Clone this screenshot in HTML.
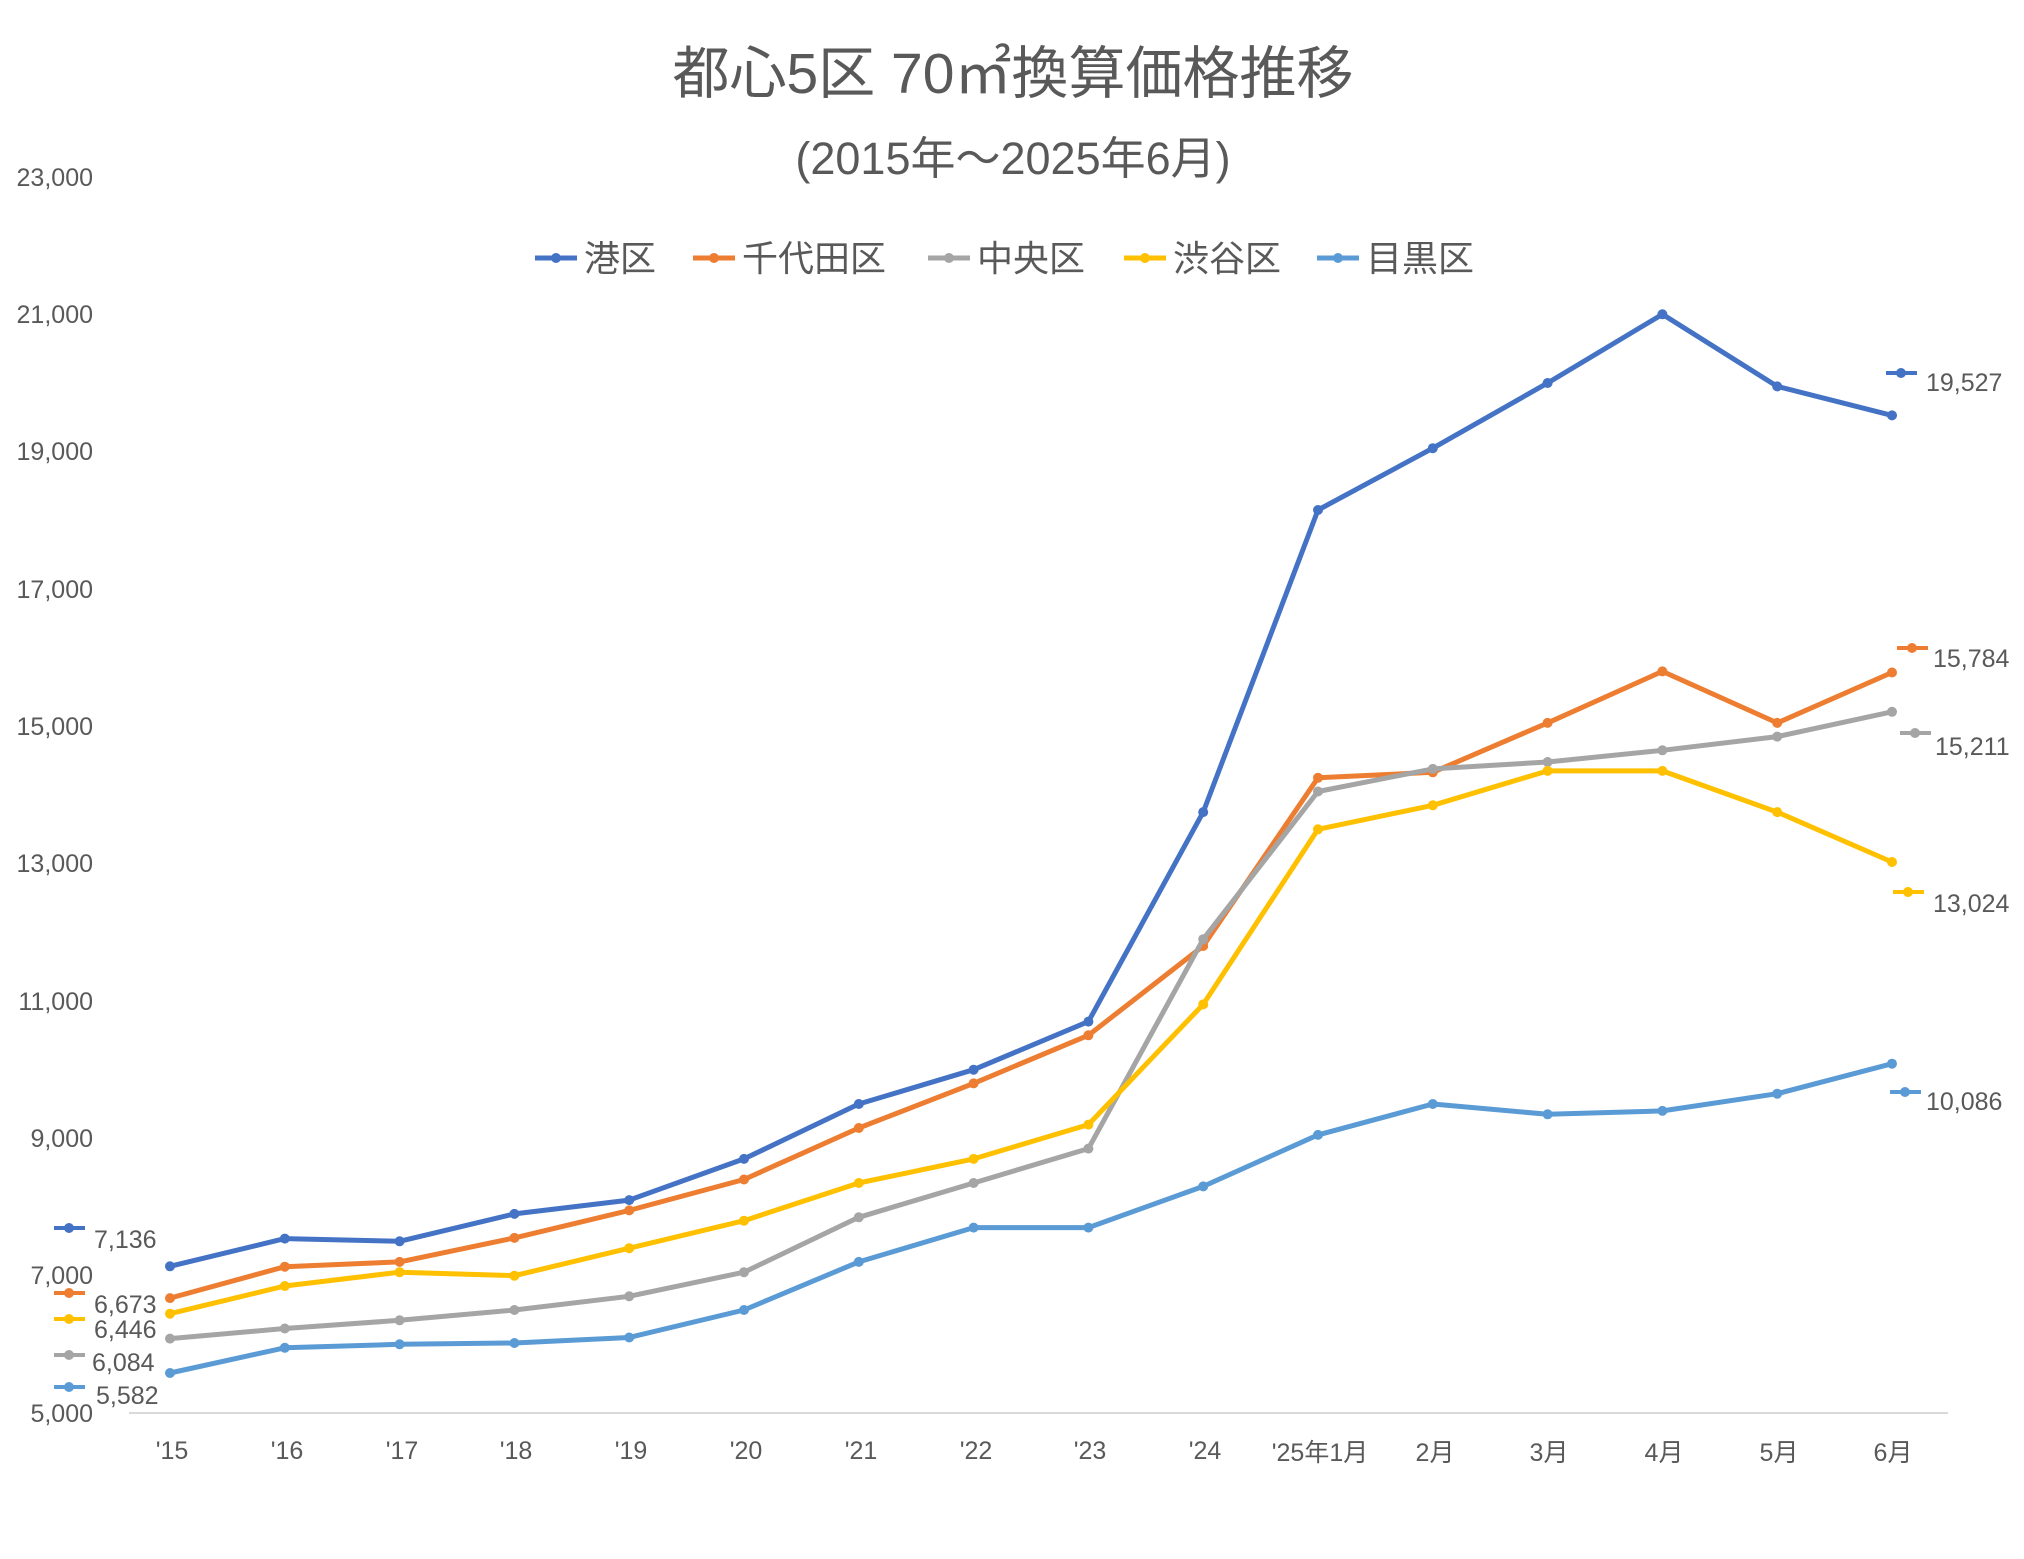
<!DOCTYPE html>
<html><head><meta charset="utf-8"><style>
html,body{margin:0;padding:0;background:#fff;}
svg{display:block}
text{font-family:"Liberation Sans Narrow","Liberation Sans","Noto Sans CJK JP",sans-serif;fill:#595959}
.j{font-family:"Liberation Sans","Noto Sans CJK JP",sans-serif}
</style></head><body>
<svg id="s" width="2024" height="1559" viewBox="0 0 2024 1559" xmlns="http://www.w3.org/2000/svg">
<text class="j" x="1013" y="93" font-size="57" text-anchor="middle">都心5区 70㎡換算価格推移</text>
<text class="j" x="1013" y="174" font-size="45" text-anchor="middle">(2015年～2025年6月)</text>
<g font-size="25" text-anchor="end">
<text x="93" y="186">23,000</text><text x="93" y="323">21,000</text><text x="93" y="460">19,000</text>
<text x="93" y="598">17,000</text><text x="93" y="735">15,000</text><text x="93" y="872">13,000</text>
<text x="93" y="1010">11,000</text><text x="93" y="1147">9,000</text><text x="93" y="1284">7,000</text>
<text x="93" y="1422">5,000</text>
</g>
<line x1="129" y1="1413" x2="1948" y2="1413" stroke="#d9d9d9" stroke-width="2"/>
<g font-size="25" text-anchor="middle">
<text x="172" y="1459">'15</text><text x="287" y="1459">'16</text><text x="402" y="1459">'17</text>
<text x="516" y="1459">'18</text><text x="631" y="1459">'19</text><text x="746" y="1459">'20</text>
<text x="861" y="1459">'21</text><text x="976" y="1459">'22</text><text x="1090" y="1459">'23</text>
<text x="1205" y="1459">'24</text><text class="j" x="1320" y="1461" font-size="25">'25年1月</text>
<text class="j" x="1435" y="1461" font-size="25">2月</text><text class="j" x="1549" y="1461" font-size="25">3月</text>
<text class="j" x="1664" y="1461" font-size="25">4月</text><text class="j" x="1779" y="1461" font-size="25">5月</text>
<text class="j" x="1893" y="1461" font-size="25">6月</text>
</g>
<g class="j" font-size="36">
<line x1="535" y1="258" x2="577" y2="258" stroke="#4472C4" stroke-width="5"/><circle cx="556" cy="258" r="5" fill="#4472C4"/>
<text class="j" x="584" y="271">港区</text>
<line x1="693" y1="258" x2="735" y2="258" stroke="#ED7D31" stroke-width="5"/><circle cx="714" cy="258" r="5" fill="#ED7D31"/>
<text class="j" x="742" y="271">千代田区</text>
<line x1="928" y1="258" x2="970" y2="258" stroke="#A5A5A5" stroke-width="5"/><circle cx="949" cy="258" r="5" fill="#A5A5A5"/>
<text class="j" x="977" y="271">中央区</text>
<line x1="1124" y1="258" x2="1166" y2="258" stroke="#FFC000" stroke-width="5"/><circle cx="1145" cy="258" r="5" fill="#FFC000"/>
<text class="j" x="1173" y="271">渋谷区</text>
<line x1="1317" y1="258" x2="1359" y2="258" stroke="#5B9BD5" stroke-width="5"/><circle cx="1338" cy="258" r="5" fill="#5B9BD5"/>
<text class="j" x="1366" y="271">目黒区</text>
</g>
<g id="series"></g>
<g font-size="25">
<text x="94" y="1248">7,136</text><text x="94" y="1313">6,673</text><text x="94" y="1338">6,446</text>
<text x="92" y="1371">6,084</text><text x="96" y="1404">5,582</text>
<text x="1926" y="391">19,527</text><text x="1933" y="667">15,784</text><text x="1935" y="755">15,211</text>
<text x="1933" y="912">13,024</text><text x="1926" y="1110">10,086</text>
</g>
</svg>
<script>
var S=[
["#4472C4",[7136,7540,7500,7900,8100,8700,9500,10000,10700,13750,18150,19050,20000,21000,19950,19527],[54,1228],[1886,373]],
["#ED7D31",[6673,7130,7200,7550,7950,8400,9150,9800,10500,11800,14250,14330,15050,15800,15050,15784],[54,1293],[1897,648]],
["#A5A5A5",[6084,6230,6350,6500,6700,7050,7850,8350,8850,11900,14050,14380,14480,14650,14850,15211],[54,1355],[1900,733]],
["#FFC000",[6446,6850,7050,7000,7400,7800,8350,8700,9200,10950,13500,13850,14350,14350,13750,13024],[54,1319],[1893,892]],
["#5B9BD5",[5582,5950,6000,6020,6100,6500,7200,7700,7700,8300,9050,9500,9350,9400,9650,10086],[54,1387],[1890,1092]]];
var g=document.getElementById('series'),h='';
S.forEach(function(s){var p=s[1].map(function(v,i){return (170+114.8*i).toFixed(1)+','+(1413-(v-5000)*0.06867).toFixed(1)});
h+='<polyline points="'+p.join(' ')+'" fill="none" stroke="'+s[0]+'" stroke-width="5" stroke-linejoin="round"/>';
p.forEach(function(q){var a=q.split(',');h+='<circle cx="'+a[0]+'" cy="'+a[1]+'" r="5" fill="'+s[0]+'"/>';});
[s[2],s[3]].forEach(function(m){h+='<line x1="'+m[0]+'" y1="'+m[1]+'" x2="'+(m[0]+31)+'" y2="'+m[1]+'" stroke="'+s[0]+'" stroke-width="4"/><circle cx="'+(m[0]+15)+'" cy="'+m[1]+'" r="5" fill="'+s[0]+'"/>';});
});
g.innerHTML=h;
</script>
</body></html>
